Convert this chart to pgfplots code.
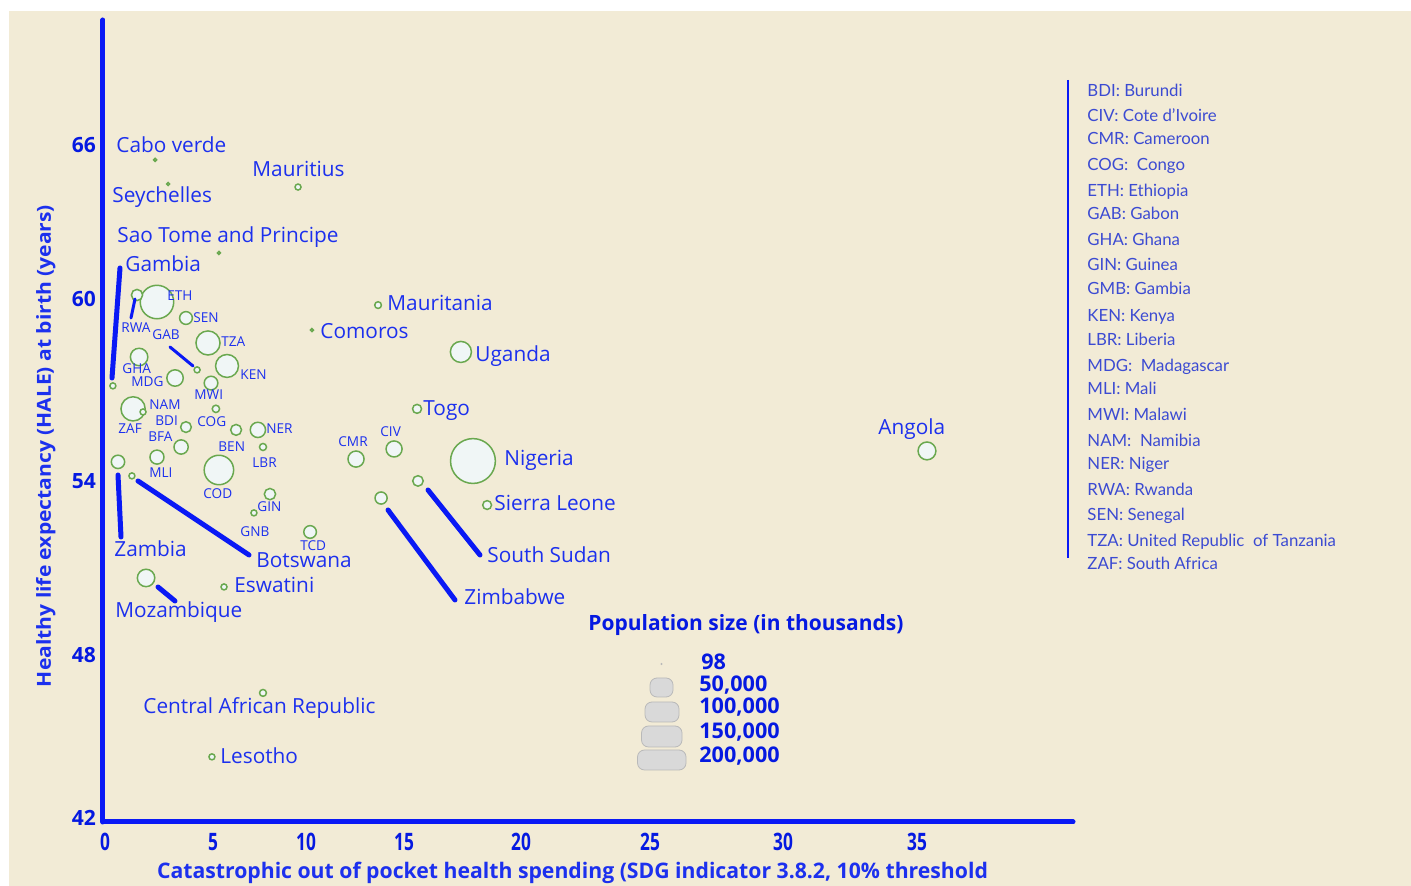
\documentclass[border=0pt]{standalone}
\usepackage{fontspec}
\setmainfont{Open Sans}
\newfontfamily\latf{Lato}
\newfontfamily\condf[FakeStretch=0.72]{Open Sans}
\usepackage{pgfplots}
\usepackage{pgfplotstable}
\pgfplotsset{compat=1.18}
\definecolor{bg}{RGB}{242,235,214}
\definecolor{axblue}{RGB}{10,25,245}
\definecolor{labblue}{RGB}{28,48,238}
\definecolor{tickblue}{RGB}{5,25,225}
\definecolor{legblue}{RGB}{60,75,210}
\definecolor{bubgreen}{RGB}{106,168,79}
\definecolor{bubfill}{RGB}{240,246,246}
\definecolor{popfill}{RGB}{217,217,217}
\definecolor{popdraw}{RGB}{185,185,185}

% x = out-of-pocket spending (%), y = HALE (years), pop = population (thousands)
\pgfplotstableread{
name x y pop
NGA 15.86 54.73 200964
ETH 2.24 60.40 112079
COD 4.91 54.41 86791
ZAF 1.21 56.59 58558
TZA 4.44 58.94 58005
KEN 5.26 58.12 52574
UGA 15.34 58.62 44270
AGO 35.43 55.09 31825
GHA 1.47 58.44 30418
MOZ 1.77 50.56 30366
MDG 3.02 57.69 26969
CMR 10.82 54.80 25876
CIV 12.46 55.16 25717
NER 6.59 55.84 23311
BFA 3.28 55.23 20321
MLI 2.24 54.87 19658
MWI 4.57 57.51 18628
ZMB 0.56 54.70 17861
SEN 3.49 59.83 16296
TCD 8.84 52.20 15947
ZWE 11.90 53.41 14645
GIN 7.11 53.55 12771
RWA 1.38 60.65 12627
BEN 5.65 55.84 11801
BDI 3.49 55.94 11531
SSD 13.49 54.02 11062
TGO 13.45 56.59 8082
SLE 16.47 53.16 7813
COG 4.78 56.59 5381
LBR 6.81 55.23 4937
CAF 6.81 46.46 4745
MRT 11.77 60.29 4526
NAM 1.64 56.48 2495
BWA 1.16 54.20 2304
GMB 0.34 57.41 2348
GAB 3.97 57.98 2172
LSO 4.61 44.18 2125
GNB 6.42 52.88 1920
MUS 8.32 64.50 1270
SWZ 5.13 50.24 1148
COM 8.92 59.40 851
CPV 2.16 65.47 550
STP 4.91 62.15 215
SYC 2.72 64.61 98
}\bubbles

\begin{document}
\begin{tikzpicture}
\begin{scope}[x=0.5pt,y=-0.5pt,shift={(-103,-822)}]
\fill[white] (0,0) rectangle (1411,886);
\fill[bg] (9,11) rectangle (1411,886);
\end{scope}

\begin{axis}[
  scale only axis, width=485pt, height=401pt,
  xmin=-0.0862, xmax=41.7241, ymin=41.857, ymax=70.458,
  axis x line=bottom, axis y line=left,
  axis line style={-, line width=2.5pt, draw=axblue, line cap=round},
  clip=false,
  major tick length=0pt, tick style={draw=none},
  xtick={0,4.655,8.664,12.888,17.931,23.491,29.224,35.0},
  xticklabels={0,5,10,15,20,25,30,35},
  ytick={42,47.813,54.018,60.508,66},
  yticklabels={42,48,54,60,66},
  /pgf/number format/assume math mode=true,
  xticklabel style={font=\condf\bfseries\fontsize{12}{13}\selectfont, text=tickblue, yshift=-2pt},
  yticklabel style={font=\bfseries\fontsize{10.5}{12}\selectfont, text=tickblue},
]
\addplot[scatter, only marks, mark=*, line width=0.75pt,
  scatter/use mapped color={draw=bubgreen, fill=bubfill},
  visualization depends on={ifthenelse(\thisrow{pop}>1000, max(0.025*sqrt(\thisrow{pop}),1.5), 0.75) \as \rr},
  scatter/@pre marker code/.append style={/tikz/mark size=\rr}]
  table[x=x, y=y] {\bubbles};
\end{axis}

\begin{scope}[x=0.5pt,y=-0.5pt,shift={(-103,-822)},
  big/.style={anchor=base west, inner sep=0, text=labblue, font=\fontsize{10.4}{12}\selectfont},
  sm/.style={anchor=base west, inner sep=0, text=labblue, font=\fontsize{6.8}{8}\selectfont},
  lg/.style={anchor=base west, inner sep=0, text=legblue, font=\latf\fontsize{8.4}{10}\selectfont},
  pl/.style={anchor=base west, inner sep=0, text=tickblue, font=\bfseries\fontsize{10.8}{12}\selectfont},
  ld/.style={draw=axblue, line width=2.5pt, line cap=round},
  lt/.style={draw=axblue, line width=1.5pt, line cap=round}]
% leader lines
\draw[ld] (112,378) -- (120,268);
\draw[lt] (135,299) -- (131,318);
\draw[lt] (170,347) -- (193,366);
\draw[ld] (118,475) -- (121,537);
\draw[ld] (138,481) -- (249,555);
\draw[ld] (158,587) -- (175,601);
\draw[ld] (388,510) -- (455,600);
\draw[ld] (428,490) -- (480,555);
% big labels
\node[big] at (116,153) {Cabo verde};
\node[big] at (252,177) {Mauritius};
\node[big] at (112,203) {Seychelles};
\node[big] at (117,243) {Sao Tome and Principe};
\node[big] at (125,272) {Gambia};
\node[big] at (387,311) {Mauritania};
\node[big] at (320,339) {Comoros};
\node[big] at (475,362) {Uganda};
\node[big] at (423,416) {Togo};
\node[big] at (878,435) {Angola};
\node[big] at (504,466) {Nigeria};
\node[big] at (494,511) {Sierra Leone};
\node[big] at (487,563) {South Sudan};
\node[big] at (464,605) {Zimbabwe};
\node[big] at (114,557) {Zambia};
\node[big] at (256,568) {Botswana};
\node[big] at (234,593) {Eswatini};
\node[big] at (115,618) {Mozambique};
\node[big] at (143,714) {Central African Republic};
\node[big] at (220,764) {Lesotho};
% small labels
\node[sm] at (167,301) {ETH};
\node[sm] at (193,323) {SEN};
\node[sm] at (121,333) {RWA};
\node[sm] at (152,340) {GAB};
\node[sm] at (221,347) {TZA};
\node[sm] at (122,374) {GHA};
\node[sm] at (131,387) {MDG};
\node[sm] at (240,380) {KEN};
\node[sm] at (194,400) {MWI};
\node[sm] at (149,410) {NAM};
\node[sm] at (155,426) {BDI};
\node[sm] at (197,427) {COG};
\node[sm] at (266,434) {NER};
\node[sm] at (118,434) {ZAF};
\node[sm] at (148,442) {BFA};
\node[sm] at (218,452) {BEN};
\node[sm] at (338,447) {CMR};
\node[sm] at (380,437) {CIV};
\node[sm] at (252,468) {LBR};
\node[sm] at (149,478) {MLI};
\node[sm] at (203,499) {COD};
\node[sm] at (257,512) {GIN};
\node[sm] at (240,537) {GNB};
\node[sm] at (300,551) {TCD};
% axis titles
\node[rotate=90, anchor=base, inner sep=0, text=labblue] at (51,446)
  {\resizebox{241pt}{7.4pt}{\bfseries Healthy life expectancy (HALE) at birth (years)}};
\node[anchor=base, inner sep=0, text=labblue] at (572.5,879)
  {\resizebox{415.5pt}{8.2pt}{\bfseries Catastrophic out of pocket health spending (SDG indicator 3.8.2, 10\% threshold}};
% population legend
\node[anchor=base west, inner sep=0, text=tickblue] at (588,631)
  {\resizebox{157.5pt}{8pt}{\bfseries Population size (in thousands)}};
\fill[popdraw] (661.5,664) circle (0.6pt);
\draw[popdraw, fill=popfill, rounded corners=3.5pt] (650,678) rectangle (673,697);
\draw[popdraw, fill=popfill, rounded corners=3.5pt] (645,702) rectangle (679,722);
\draw[popdraw, fill=popfill, rounded corners=3.5pt] (641.5,726) rectangle (682,747);
\draw[popdraw, fill=popfill, rounded corners=3.5pt] (637.5,750) rectangle (686,770);
\node[pl] at (701,670) {98};
\node[pl] at (699,692) {50,000};
\node[pl] at (699,714) {100,000};
\node[pl] at (699,739) {150,000};
\node[pl] at (699,763) {200,000};
% right legend
\draw[draw=axblue, line width=0.75pt] (1068,80) -- (1068,558);
\node[lg] at (1087,96.7) {BDI: Burundi};
\node[lg] at (1087,121.7) {CIV: Cote d’Ivoire};
\node[lg] at (1087,145) {CMR: Cameroon};
\node[lg] at (1087,171) {COG:\ \ Congo};
\node[lg] at (1087,196.7) {ETH: Ethiopia};
\node[lg] at (1087,220) {GAB: Gabon};
\node[lg] at (1087,246) {GHA: Ghana};
\node[lg] at (1087,270.7) {GIN: Guinea};
\node[lg] at (1087,295) {GMB: Gambia};
\node[lg] at (1087,321.7) {KEN: Kenya};
\node[lg] at (1087,346) {LBR: Liberia};
\node[lg] at (1087,371.7) {MDG:\ \ Madagascar};
\node[lg] at (1087,395) {MLI: Mali};
\node[lg] at (1087,420.7) {MWI: Malawi};
\node[lg] at (1087,446.7) {NAM:\ \ Namibia};
\node[lg] at (1087,470) {NER: Niger};
\node[lg] at (1087,495.7) {RWA: Rwanda};
\node[lg] at (1087,520.7) {SEN: Senegal};
\node[lg] at (1087,546.7) {TZA: United Republic\ \ of Tanzania};
\node[lg] at (1087,569.3) {ZAF: South Africa};
\end{scope}
\end{tikzpicture}
\end{document}
